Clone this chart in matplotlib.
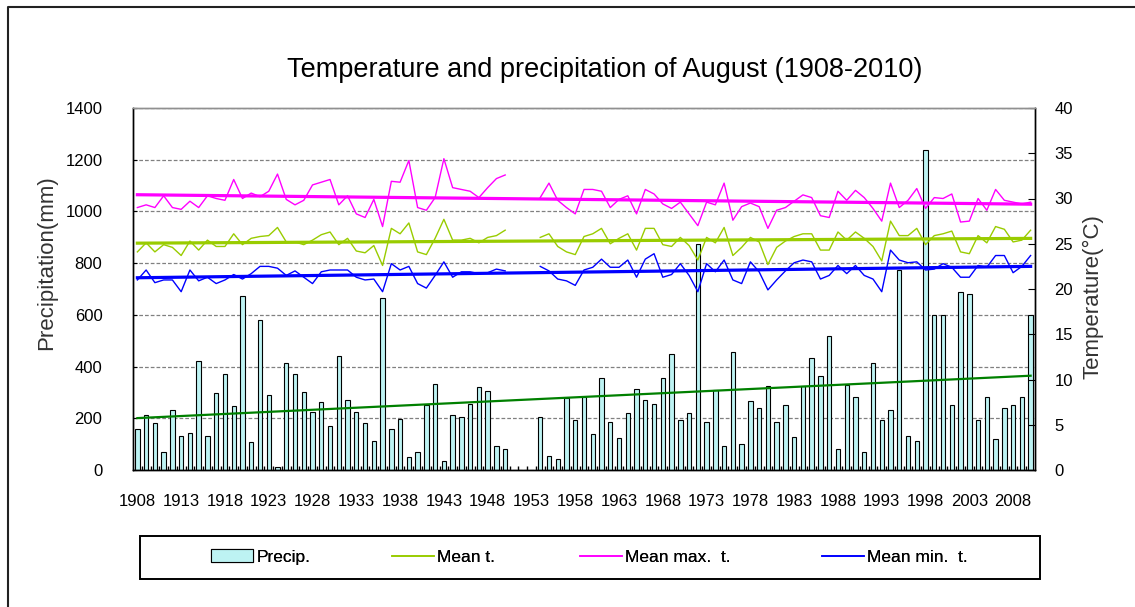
import numpy as np
import matplotlib
matplotlib.use('Agg')
import matplotlib.pyplot as plt
from matplotlib.lines import Line2D
from matplotlib.patches import Patch, Rectangle

nan = float('nan')

years = list(range(1908, 2011))

precip = [157, 213, 183, 69, 231, 131, 144, 422, 131, 296,
          370, 247, 674, 107, 579, 289, 10, 414, 370, 301,
          225, 264, 170, 440, 270, 225, 183, 113, 666, 157,
          199, 49, 69, 251, 332, 36, 213, 206, 257, 321,
          306, 93, 80, nan, nan, nan, 206, 54, 42, 279,
          195, 283, 138, 357, 186, 122, 219, 314, 270, 257,
          357, 450, 195, 219, 874, 186, 311, 93, 458, 99,
          267, 238, 325, 186, 251, 129, 324, 433, 365, 517,
          81, 327, 283, 69, 414, 195, 231, 774, 131, 112,
          1237, 598, 598, 253, 687, 682, 195, 283, 118, 238,
          253, 283, 598]

t_mean = [24.1, 25.1, 24.1, 24.9, 24.6, 23.7, 25.3, 24.3, 25.4, 24.7,
          24.7, 26.1, 24.9, 25.6, 25.8, 25.9, 26.8, 25.2, 25.2, 24.9,
          25.4, 26.0, 26.3, 24.9, 25.6, 24.2, 24.0, 24.8, 22.6, 26.7,
          26.1, 27.3, 24.1, 23.8, 25.6, 27.7, 25.4, 25.4, 25.6, 25.1,
          25.7, 25.9, 26.5, nan, nan, nan, 25.7, 26.1, 24.7, 24.1,
          23.8, 25.8, 26.1, 26.7, 25.0, 25.6, 26.1, 24.3, 26.7, 26.7,
          24.9, 24.7, 25.7, 24.8, 23.2, 25.7, 25.1, 26.8, 23.7, 24.6,
          25.7, 25.2, 22.7, 24.6, 25.3, 25.8, 26.1, 26.1, 24.3, 24.3,
          26.3, 25.4, 26.3, 25.6, 24.7, 23.1, 27.5, 25.9, 25.9, 26.7,
          24.9, 25.9, 26.1, 26.4, 24.1, 23.9, 25.9, 25.1, 26.9, 26.6,
          25.2, 25.4, 26.5]

t_max = [29.0, 29.3, 29.0, 30.3, 29.0, 28.8, 29.7, 29.0, 30.3, 30.0,
         29.8, 32.1, 30.0, 30.6, 30.2, 30.8, 32.7, 29.9, 29.3, 29.8,
         31.5, 31.8, 32.1, 29.3, 30.3, 28.3, 27.9, 29.9, 26.9, 31.9,
         31.8, 34.2, 29.0, 28.7, 30.1, 34.4, 31.2, 31.0, 30.8, 30.1,
         31.2, 32.2, 32.6, nan, nan, nan, 30.1, 31.7, 29.8, 29.0,
         28.3, 31.0, 31.0, 30.8, 29.0, 29.9, 30.3, 28.3, 31.0, 30.5,
         29.4, 28.9, 29.6, 28.3, 27.0, 29.6, 29.3, 31.7, 27.6, 29.1,
         29.5, 29.1, 26.7, 28.7, 29.0, 29.7, 30.4, 30.1, 28.1, 27.9,
         30.8, 29.8, 30.9, 30.1, 28.9, 27.5, 31.7, 29.0, 29.8, 31.1,
         28.9, 30.1, 30.0, 30.5, 27.4, 27.5, 30.0, 28.7, 31.0, 29.8,
         29.6, 29.4, 29.6]

t_min = [21.0, 22.1, 20.7, 21.0, 21.0, 19.7, 22.1, 20.9, 21.3, 20.6,
         21.0, 21.6, 21.1, 21.7, 22.5, 22.5, 22.3, 21.5, 22.0, 21.3,
         20.6, 21.9, 22.1, 22.1, 22.1, 21.3, 21.0, 21.1, 19.7, 22.8,
         22.1, 22.5, 20.6, 20.1, 21.5, 23.0, 21.3, 21.9, 21.9, 21.7,
         21.8, 22.2, 22.0, nan, nan, nan, 22.5, 22.0, 21.1, 20.9,
         20.4, 22.1, 22.4, 23.3, 22.4, 22.4, 23.2, 21.3, 23.3, 23.9,
         21.3, 21.6, 22.8, 21.5, 19.7, 22.8, 21.9, 23.2, 21.0, 20.6,
         23.0, 21.9, 19.9, 21.0, 22.0, 22.9, 23.2, 23.0, 21.1, 21.5,
         22.6, 21.7, 22.6, 21.5, 21.1, 19.7, 24.3, 23.2, 22.9, 23.0,
         22.1, 22.2, 22.8, 22.4, 21.3, 21.3, 22.6, 22.4, 23.7, 23.7,
         21.8, 22.5, 23.7]

tick_years = list(range(1908, 2011, 5))
precip_ticks = list(range(0, 1401, 200))
temp_ticks = list(range(0, 41, 5))

series_labels = ['Precip.', 'Mean t.', 'Mean max.  t.', 'Mean min.  t.']
title = 'Temperature and precipitation of August (1908-2010)'

plt.rcParams['font.family'] = ['Liberation Sans', 'DejaVu Sans']

BAR_C = '#BDF3F3'
MEAN_C = '#99CC00'
MAX_C = '#FF00FF'
MIN_C = '#0000FF'
TREND_P = '#008000'

W, H = 1135, 607
fig = plt.figure(figsize=(W / 100, H / 100), dpi=100)


def fx(px):
    return px / W


def fy(py):
    return 1 - py / H


ax = fig.add_axes([fx(133), fy(470), (1035 - 133) / W, (470 - 108) / H])
x = np.arange(len(years))
p = np.array(precip, dtype=float)

ax.bar(x, p, width=0.5, color=BAR_C, edgecolor='black', linewidth=0.8, zorder=2)
m = ~np.isnan(p)
cp = np.polyfit(x[m], p[m], 1)
ax.plot(x, np.polyval(cp, x), color=TREND_P, lw=1.6, zorder=3)

ax.set_xlim(-0.5, len(years) - 0.5)
ax.set_ylim(0, 1400)
ax.set_yticks(precip_ticks)
ax.yaxis.grid(True, color='#808080', linestyle=(0, (3, 1.6)), linewidth=0.9)
ax.set_axisbelow(True)

ax.set_xticks([years.index(y) for y in tick_years])
ax.set_xticklabels([str(y) for y in tick_years])
ax.set_xticks(np.arange(0.5, len(years) - 1, 1.0), minor=True)
ax.tick_params(axis='x', which='major', length=0, pad=17, labelsize=12)
ax.tick_params(axis='x', which='minor', direction='in', length=3, width=1, color='black')
ax.tick_params(axis='y', direction='in', length=3, pad=22, labelsize=12)

ax2 = ax.twinx()
for vals, col in [(t_mean, MEAN_C), (t_max, MAX_C), (t_min, MIN_C)]:
    v = np.array(vals, dtype=float)
    ax2.plot(x, v, color=col, lw=1.0, zorder=4)
    mm = ~np.isnan(v)
    c = np.polyfit(x[mm], v[mm], 1)
    ax2.plot(x, np.polyval(c, x), color=col, lw=2.3, zorder=5)
ax2.set_ylim(0, 40)
ax2.set_yticks(temp_ticks)
ax2.tick_params(axis='y', direction='in', length=5, pad=14, labelsize=12)

for a in (ax, ax2):
    a.spines['top'].set_color('#909090')
    a.spines['left'].set_color('black')
    a.spines['right'].set_color('black')
    a.spines['bottom'].set_color('black')
    for s in a.spines.values():
        s.set_linewidth(1.0)

fig.text(fx(605), fy(70), title, ha='center', va='center', fontsize=19.5, color='black')
fig.text(fx(47), fy(263), 'Precipitation(mm)', rotation=90, ha='center', va='center',
         fontsize=16, color='#333333')
fig.text(fx(1093), fy(297), 'Temperature(°C)', rotation=90, ha='center', va='center',
         fontsize=16, color='#333333')

# legend frame
fig.add_artist(Rectangle((fx(140), fy(579)), 900 / W, 43 / H, transform=fig.transFigure,
                         fill=False, edgecolor='black', linewidth=1.4))
handles = [Patch(facecolor=BAR_C, edgecolor='black', linewidth=0.8),
           Line2D([], [], color=MEAN_C, lw=1.2),
           Line2D([], [], color=MAX_C, lw=1.2),
           Line2D([], [], color=MIN_C, lw=1.2)]
starts = [211, 392, 580, 822]
for h, lab, sx in zip(handles, series_labels, starts):
    lg = fig.legend(handles=[h], labels=[lab], loc='center left',
                    bbox_to_anchor=(fx(sx), fy(557)), frameon=False, fontsize=12.5,
                    handlelength=2.4, handletextpad=0.2, borderpad=0, borderaxespad=0)
    fig.add_artist(lg)

# outer chart frame (left and top)
fig.add_artist(Line2D([fx(8), fx(8), fx(1135)], [fy(607), fy(7), fy(7)],
                      transform=fig.transFigure, color='#222222', lw=1.5))

fig.savefig('out.png', dpi=100)
